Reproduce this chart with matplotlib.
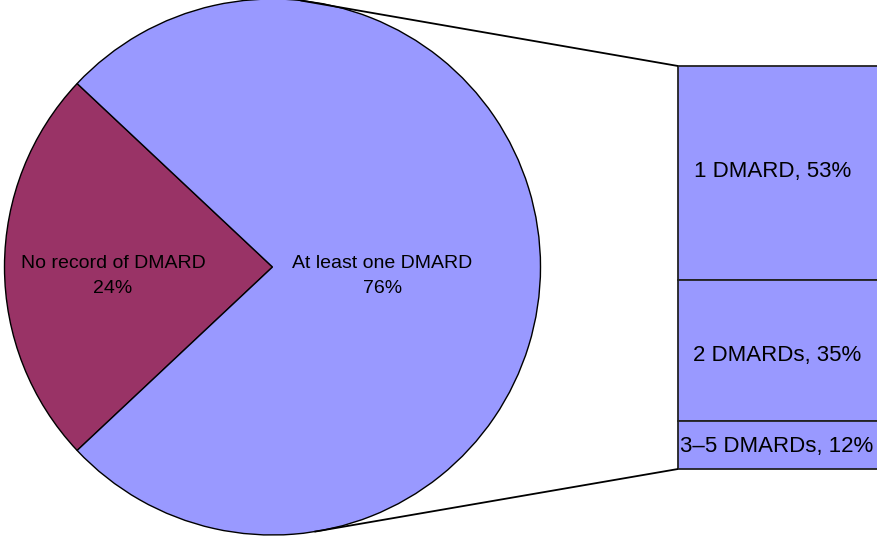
import numpy as np
import matplotlib
matplotlib.use("Agg")
import matplotlib.pyplot as plt

plt.rcParams['font.family'] = ['Liberation Sans', 'DejaVu Sans']

# Main split
pie_labels = ["No record of DMARD", "At least one DMARD"]
pie_values = [24, 76]
pie_colors = ["#993366", "#9999FF"]

# Breakdown of patients with at least one DMARD (top to bottom)
bar_labels = ["1 DMARD", "2 DMARDs", "3\u20135 DMARDs"]
bar_values = [53, 35, 12]
bar_color = "#9999FF"

W, H = 878, 540
fig = plt.figure(figsize=(W / 100, H / 100), dpi=100)
ax = fig.add_axes([0, 0, 1, 1])

# Pie
cx, cy, r = 272.5, 273.0, 268.0
span = 360 * pie_values[0] / sum(pie_values)
start = 180 - span / 2
ax.pie(pie_values, colors=pie_colors, startangle=start,
       counterclock=True, center=(cx, cy), radius=r,
       wedgeprops=dict(edgecolor='black', linewidth=1.0),
       frame=True)
ax.set_xlim(0, W)
ax.set_ylim(0, H)
ax.set_aspect('equal')
ax.axis('off')

label_fs = 14
ax.text(113, 264, f"{pie_labels[0]}\n{pie_values[0]}%", ha='center', va='center',
        fontsize=label_fs, linespacing=1.6)
ax.text(382.5, 264, f"{pie_labels[1]}\n{pie_values[1]}%", ha='center', va='center',
        fontsize=label_fs, linespacing=1.6)

# Stacked bar
bx0, bw = 678, 200
by0, bh = 71, 403
scale = bh / sum(bar_values)
label_dx = [-5, -1, -1]
label_dy = [1, -5, -2]
top = by0 + bh
for lab, v, dx, dy in zip(bar_labels, bar_values, label_dx, label_dy):
    h = v * scale
    bottom = top - h
    ax.bar(bx0 + bw / 2, h, width=bw, bottom=bottom, color=bar_color,
           edgecolor='#222222', linewidth=1.3)
    ax.text(bx0 + bw / 2 + dx, bottom + h / 2 + dy, f"{lab}, {v}%", ha='center',
            va='center', fontsize=16)
    top = bottom

# Connector lines from pie to bar
a_top, a_bot = np.radians(84), np.radians(-81)
ax.plot([cx + r * np.cos(a_top), bx0], [cy + r * np.sin(a_top), by0 + bh],
        color='black', linewidth=1.3, solid_capstyle='butt')
ax.plot([cx + r * np.cos(a_bot), bx0], [cy + r * np.sin(a_bot), by0],
        color='black', linewidth=1.3, solid_capstyle='butt')

fig.savefig("out.png", dpi=100)
